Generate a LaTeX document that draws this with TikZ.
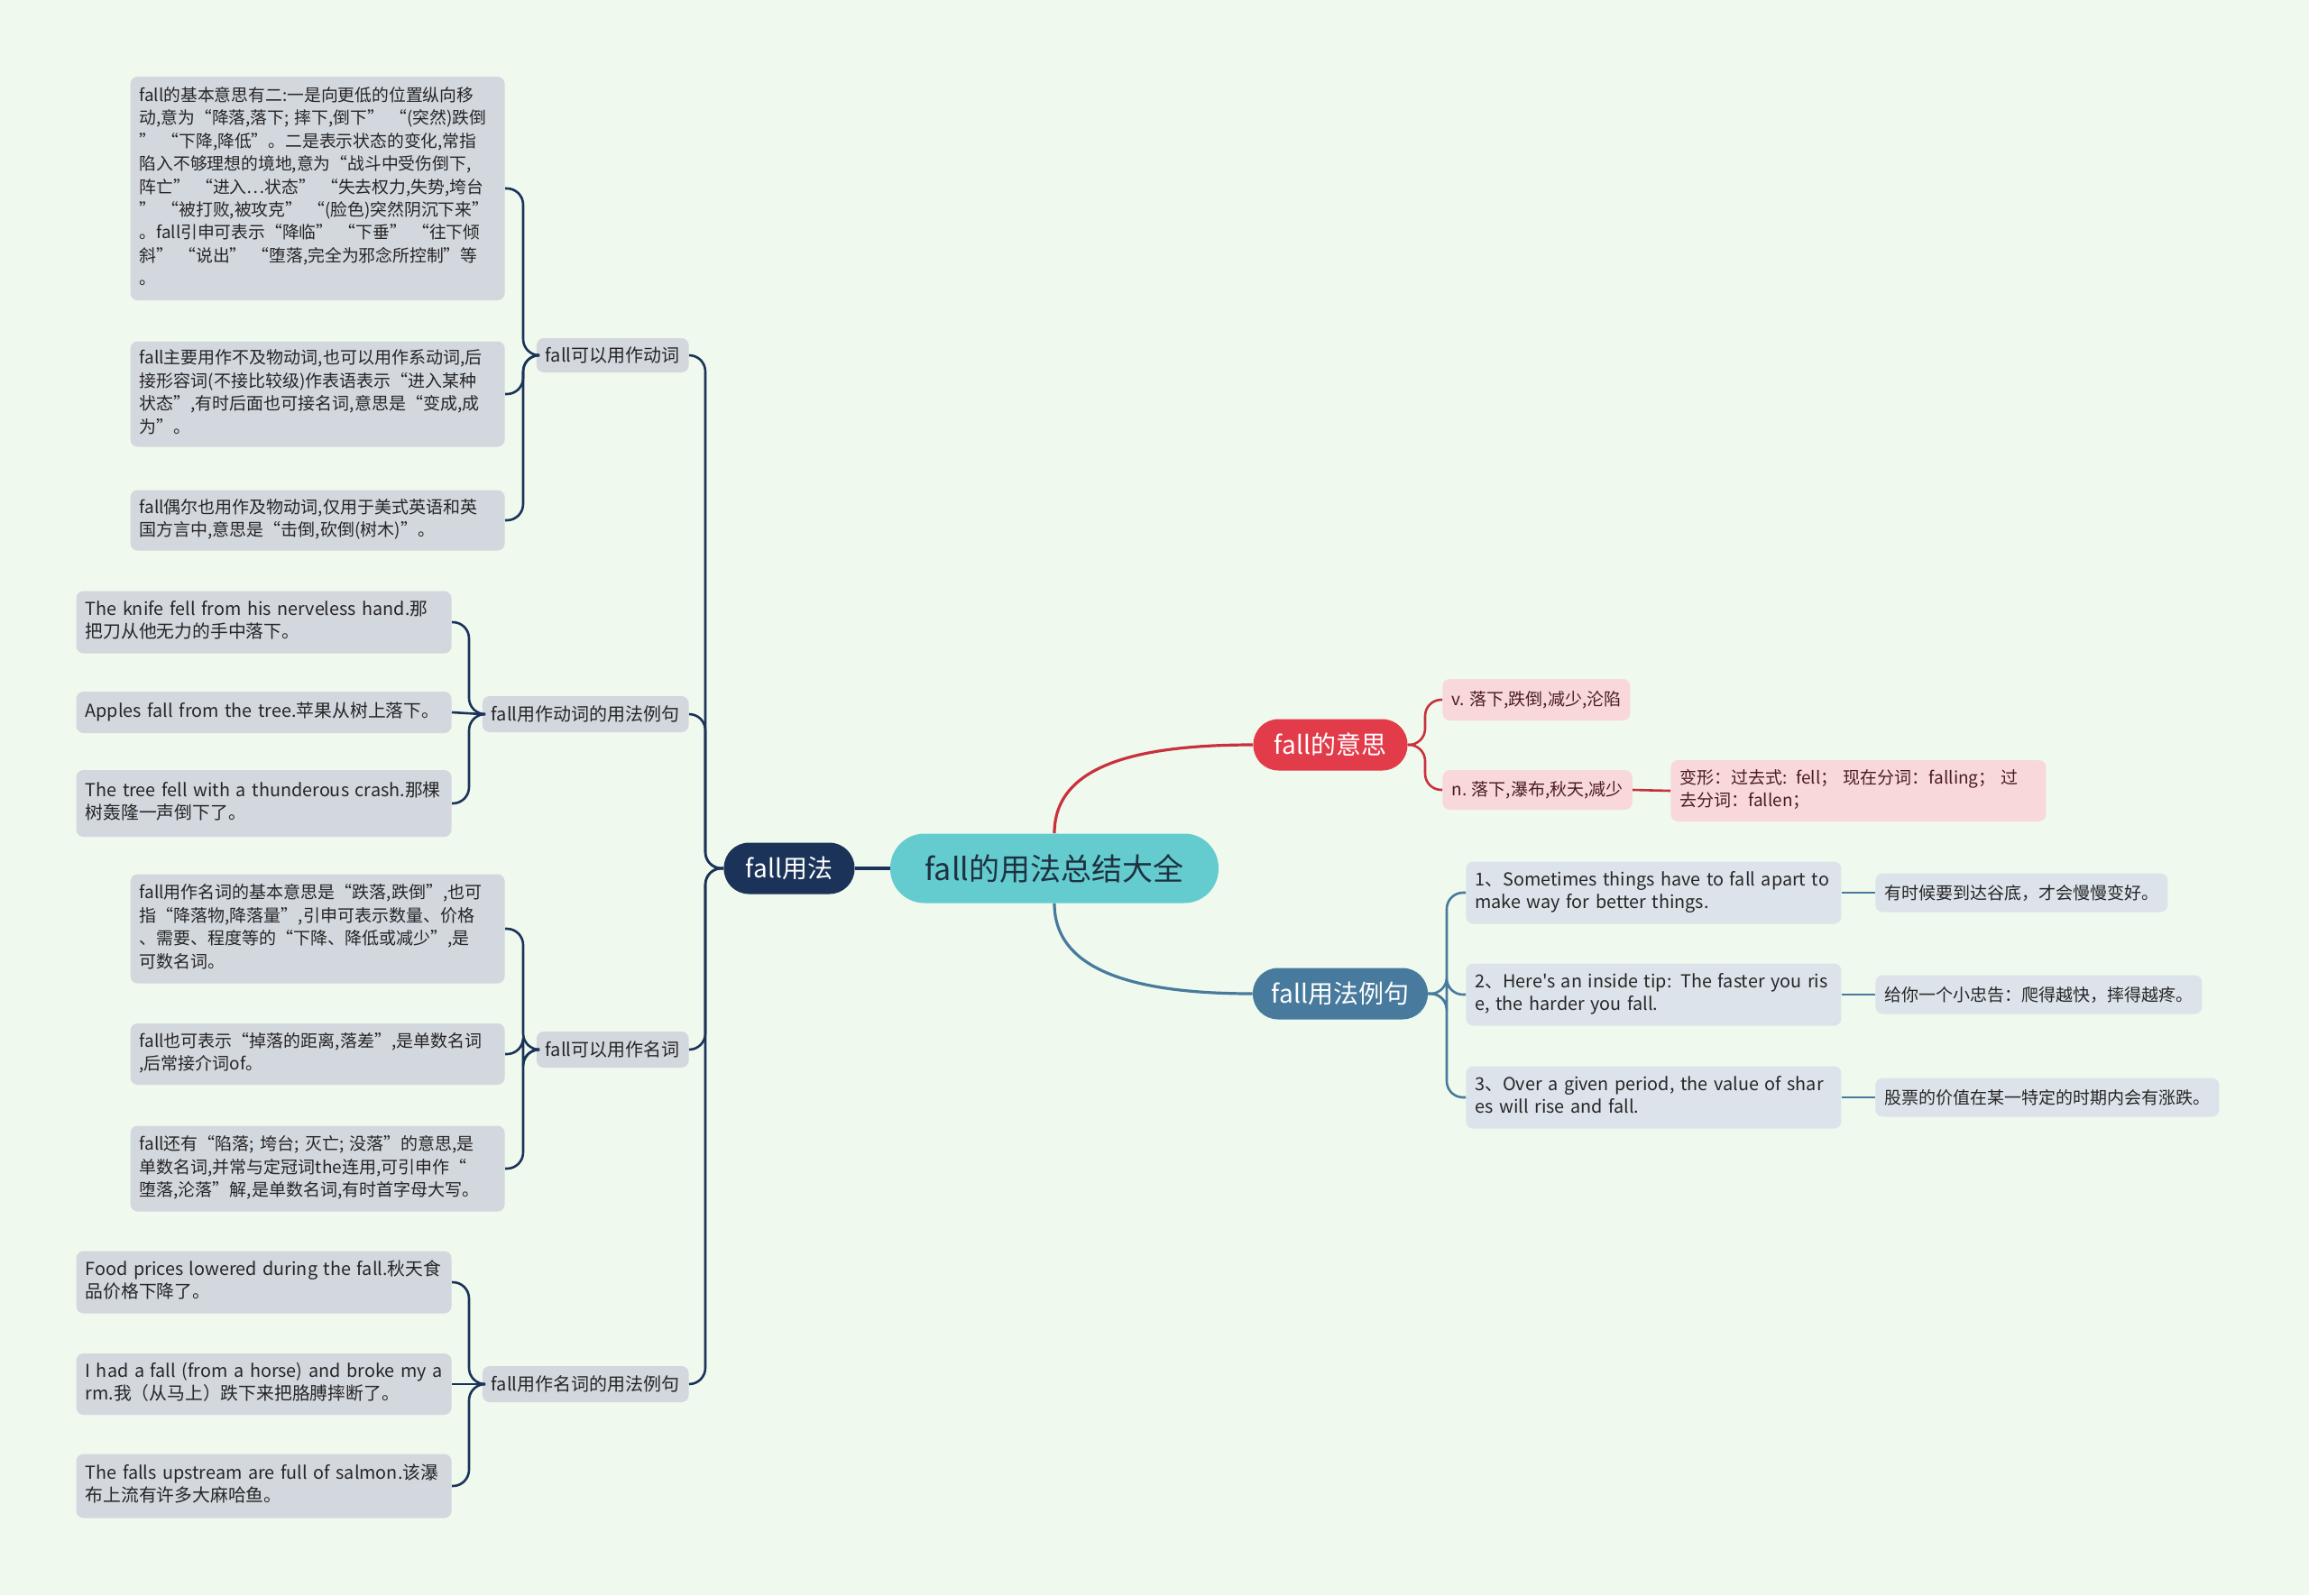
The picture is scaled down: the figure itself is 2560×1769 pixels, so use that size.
\documentclass[tikz,border=0pt]{standalone}
\usepackage{fontspec}
\newfontfamily\cnfont{Noto Sans CJK SC}
\definecolor{bgc}{HTML}{F0F9EE}
\definecolor{rootc}{HTML}{64CCCF}
\definecolor{roottxt}{HTML}{1F3140}
\definecolor{navyc}{HTML}{1B3358}
\definecolor{redc}{HTML}{E23B4A}
\definecolor{redline}{HTML}{C9303D}
\definecolor{bluec}{HTML}{477A9C}
\definecolor{leafc}{HTML}{D3D7DE}
\definecolor{exc}{HTML}{DCE3EA}
\definecolor{pinkc}{HTML}{F9D8DB}
\definecolor{pinktxt}{HTML}{4A1C22}
\definecolor{inkc}{HTML}{262626}
\newcommand{\leaftext}{\cnfont\fontsize{9.5}{12.7}\selectfont}
\newcommand{\entext}{\cnfont\fontsize{9.9}{12.7}\selectfont}
\newcommand{\rows}[1]{\begin{tabular}{@{}l@{}}#1\end{tabular}}

\begin{document}
\begin{tikzpicture}[x=0.5pt, y=-0.5pt,
  leaf/.style={fill=leafc, rounded corners=4pt, text=inkc, font=\leaftext, align=left, inner xsep=5pt, inner ysep=3pt},
  leafwide/.style={leaf, text width=197.5pt},
  exwide/.style={leaf, text width=198pt, font=\entext},
  sub/.style={leaf, minimum height=20pt, font=\cnfont\fontsize{10}{12}\selectfont},
  pinkbox/.style={leaf, fill=pinkc, text=pinktxt},
  exbox/.style={leaf, fill=exc, text width=198pt, minimum height=34.5pt, font=\entext},
  main/.style={rounded corners=14pt, minimum height=28.5pt, text=white, font=\cnfont\fontsize{14}{16}\selectfont, inner xsep=9pt},
  navyline/.style={draw=navyc, line width=1.3pt, rounded corners=9pt},
  redl/.style={draw=redline, line width=1.3pt, rounded corners=9pt},
  bluel/.style={draw=bluec, line width=1.3pt, rounded corners=9pt}]
  \useasboundingbox[fill=bgc] (0,0) rectangle (2560,1769);

  \node[fill=rootc, rounded corners=19pt, minimum width=182pt, minimum height=38.5pt, text=roottxt, font=\cnfont\fontsize{17}{19}\selectfont] (root) at (1169,963) {fall的用法总结大全};
  \node[main, fill=navyc, minimum width=72.5pt] (usage) at (875,963) {fall用法};
  \node[main, fill=redc, minimum width=85.5pt] (meaning) at (1475,826) {fall的意思};
  \node[main, fill=bluec, minimum width=97pt] (sample) at (1486,1102) {fall用法例句};

  \node[sub, anchor=east, minimum height=19pt] (verb) at (764,394) {fall可以用作动词};
  \node[sub, anchor=east] (verbex) at (764,792) {fall用作动词的用法例句};
  \node[sub, anchor=east] (noun) at (764,1164) {fall可以用作名词};
  \node[sub, anchor=east] (nounex) at (764,1535) {fall用作名词的用法例句};

  \node[leafwide, anchor=east, minimum height=124pt, font=\cnfont\fontsize{9.4}{12.7}\selectfont] (verba) at (560,209) {\rows{fall的基本意思有二:一是向更低的位置纵向移\\动,意为“降落,落下; 摔下,倒下” “(突然)跌倒\\” “下降,降低”。二是表示状态的变化,常指\\陷入不够理想的境地,意为“战斗中受伤倒下,\\阵亡” “进入…状态” “失去权力,失势,垮台\\” “被打败,被攻克” “(脸色)突然阴沉下来”\\。fall引申可表示“降临” “下垂” “往下倾\\斜” “说出” “堕落,完全为邪念所控制”等\\。}};
  \node[leafwide, anchor=east, minimum height=58.5pt] (verbb) at (560,437) {\rows{fall主要用作不及物动词,也可以用作系动词,后\\接形容词(不接比较级)作表语表示“进入某种\\状态”,有时后面也可接名词,意思是“变成,成\\为”。}};
  \node[leafwide, anchor=east, minimum height=33.5pt] (verbc) at (560,577) {\rows{fall偶尔也用作及物动词,仅用于美式英语和英\\国方言中,意思是“击倒,砍倒(树木)”。}};

  \node[exwide, anchor=east, minimum height=34.5pt] (vexa) at (501,690) {\rows{The knife fell from his nerveless hand.那\\把刀从他无力的手中落下。}};
  \node[exwide, anchor=east, minimum height=23pt] (vexb) at (501,790) {\rows{Apples fall from the tree.苹果从树上落下。}};
  \node[exwide, anchor=east, minimum height=37pt] (vexc) at (501,891) {\rows{The tree fell with a thunderous crash.那棵\\树轰隆一声倒下了。}};

  \node[leafwide, anchor=east, minimum height=60.5pt] (nouna) at (560,1030) {\rows{fall用作名词的基本意思是“跌落,跌倒”,也可\\指“降落物,降落量”,引申可表示数量、价格\\、需要、程度等的“下降、降低或减少”,是\\可数名词。}};
  \node[leafwide, anchor=east, minimum height=34pt] (nounb) at (560,1169) {\rows{fall也可表示“掉落的距离,落差”,是单数名词\\,后常接介词of。}};
  \node[leafwide, anchor=east, minimum height=47.5pt] (nounc) at (560,1296) {\rows{fall还有“陷落; 垮台; 灭亡; 没落”的意思,是\\单数名词,并常与定冠词the连用,可引申作“\\堕落,沦落”解,是单数名词,有时首字母大写。}};

  \node[exwide, anchor=east, minimum height=34.5pt] (nexa) at (501,1422) {\rows{Food prices lowered during the fall.秋天食\\品价格下降了。}};
  \node[exwide, anchor=east, minimum height=34pt] (nexb) at (501,1535) {\rows{I had a fall (from a horse) and broke my a\\rm.我（从马上）跌下来把胳膊摔断了。}};
  \node[exwide, anchor=east, minimum height=35.5pt] (nexc) at (501,1648) {\rows{The falls upstream are full of salmon.该瀑\\布上流有许多大麻哈鱼。}};

  \node[pinkbox, anchor=west, minimum height=23pt] (verbmean) at (1599,776) {v. 落下,跌倒,减少,沦陷};
  \node[pinkbox, anchor=west, minimum height=22pt] (nounmean) at (1599,876) {n. 落下,瀑布,秋天,减少};
  \node[pinkbox, anchor=west, text width=198pt, minimum height=34pt] (forms) at (1852,877) {\rows{变形：过去式: fell； 现在分词：falling； 过\\去分词：fallen；}};

  \node[exbox, anchor=west] (sena) at (1625,990) {\rows{1、Sometimes things have to fall apart to\\ make way for better things.}};
  \node[exbox, anchor=west] (senb) at (1625,1103) {\rows{2、Here's an inside tip: The faster you ris\\e, the harder you fall.}};
  \node[exbox, anchor=west] (senc) at (1625,1217) {\rows{3、Over a given period, the value of shar\\es will rise and fall.}};
  \node[leaf, fill=exc, anchor=west, minimum height=21.5pt] (trana) at (2079,990) {有时候要到达谷底，才会慢慢变好。};
  \node[leaf, fill=exc, anchor=west, minimum height=21.5pt] (tranb) at (2079,1103) {给你一个小忠告：爬得越快，摔得越疼。};
  \node[leaf, fill=exc, anchor=west, minimum height=21.5pt] (tranc) at (2079,1217) {股票的价值在某一特定的时期内会有涨跌。};

  \draw[navyc, line width=1.6pt] (root.west) -- (usage.east);
  \draw[redline, line width=1.6pt] (root.north) .. controls +(0,-75) and +(-130,0) .. (meaning.west);
  \draw[bluec, line width=1.6pt] (root.south) .. controls +(0,75) and +(-130,0) .. (sample.west);

  \draw[navyline] (usage.west) -- (782,963) |- (verb.east);
  \draw[navyline] (usage.west) -- (782,963) |- (verbex.east);
  \draw[navyline] (usage.west) -- (782,963) |- (noun.east);
  \draw[navyline] (usage.west) -- (782,963) |- (nounex.east);

  \draw[navyline] (verb.west) -- (580,394) |- (verba.east);
  \draw[navyline] (verb.west) -- (580,394) |- (verbb.east);
  \draw[navyline] (verb.west) -- (580,394) |- (verbc.east);
  \draw[navyline] (verbex.west) -- (520,792) |- (vexa.east);
  \draw[navyline] (verbex.west) -- (vexb.east);
  \draw[navyline] (verbex.west) -- (520,792) |- (vexc.east);
  \draw[navyline] (noun.west) -- (580,1164) |- (nouna.east);
  \draw[navyline] (noun.west) -- (580,1164) |- (nounb.east);
  \draw[navyline] (noun.west) -- (580,1164) |- (nounc.east);
  \draw[navyline] (nounex.west) -- (520,1535) |- (nexa.east);
  \draw[navyline] (nounex.west) -- (nexb.east);
  \draw[navyline] (nounex.west) -- (520,1535) |- (nexc.east);

  \draw[redl] (meaning.east) -- (1580,826) |- (verbmean.west);
  \draw[redl] (meaning.east) -- (1580,826) |- (nounmean.west);
  \draw[redl] (nounmean.east) -- (forms.west);

  \draw[bluel] (sample.east) -- (1604,1102) |- (sena.west);
  \draw[bluel] (sample.east) -- (1604,1102) |- (senb.west);
  \draw[bluel] (sample.east) -- (1604,1102) |- (senc.west);
  \draw[bluel] (sena.east) -- (trana.west);
  \draw[bluel] (senb.east) -- (tranb.west);
  \draw[bluel] (senc.east) -- (tranc.west);
\end{tikzpicture}
\end{document}
